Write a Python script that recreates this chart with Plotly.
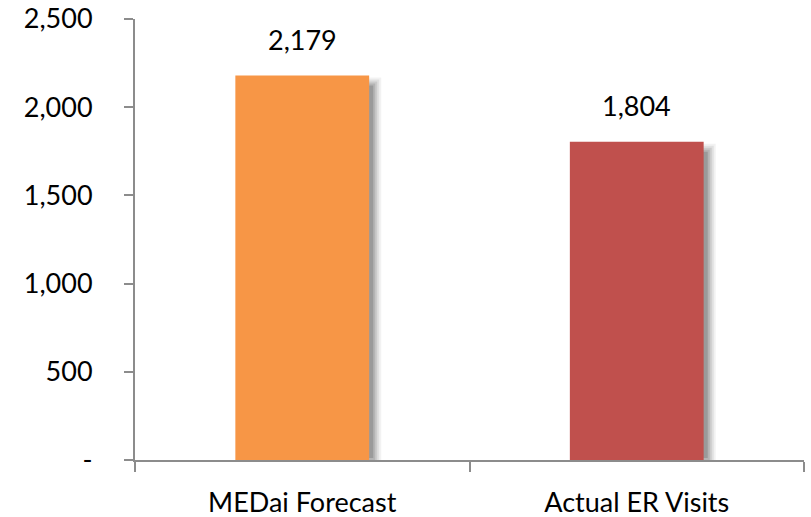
import plotly.graph_objects as go

categories = ["MEDai Forecast", "Actual ER Visits"]
values = [2179, 1804]
bar_colors = ["#F79646", "#C0504D"]
y_tickvals = [0, 500, 1000, 1500, 2000, 2500]
y_ticktext = ["-", "500", "1,000", "1,500", "2,000", "2,500"]
value_labels = ["2,179", "1,804"]

FONT = "Lato, Carlito, Calibri, sans-serif"
FS = 27

fig = go.Figure()

# soft drop shadow behind each bar (pixel offsets anchored to the data values)
shadow_layers = [(12, 0.05), (10, 0.07), (8, 0.09), (6, 0.11), (4, 0.14)]
for i, v in enumerate(values):
    for off, op in shadow_layers:
        fig.add_shape(
            type="rect", layer="below", xref="x", yref="y",
            xsizemode="pixel", xanchor=i, x0=-64, x1=67 + off,
            ysizemode="pixel", yanchor=v, y0=-(v * 0.1764) - off + 6, y1=-14 + off,
            line=dict(width=0), fillcolor=f"rgba(0,0,0,{op})",
        )

fig.add_trace(go.Bar(
    x=categories, y=values, marker=dict(color=bar_colors, line=dict(width=0)),
    width=0.40, hoverinfo="x+y",
))

for c, v, t in zip(categories, values, value_labels):
    fig.add_annotation(x=c, y=v, text=t, showarrow=False, yanchor="middle",
                       yshift=36, font=dict(size=FS, family=FONT, color="#000000"))

fig.update_layout(
    width=811, height=517,
    margin=dict(l=135, r=7, t=19, b=57, autoexpand=False),
    plot_bgcolor="white", paper_bgcolor="white",
    showlegend=False,
    font=dict(family=FONT, size=FS, color="#000000"),
    xaxis=dict(
        showline=True, linecolor="#8C8C8C", linewidth=2,
        ticks="outside", ticklen=10, tickcolor="#8C8C8C", tickwidth=2,
        tickson="boundaries", showgrid=False, zeroline=False,
        ticklabelstandoff=18, automargin=False,
        tickfont=dict(size=FS, family=FONT, color="#000000"),
    ),
    yaxis=dict(
        range=[0, 2500], tickvals=y_tickvals, ticktext=y_ticktext,
        showline=True, linecolor="#8C8C8C", linewidth=2,
        ticks="outside", ticklen=9, tickcolor="#8C8C8C", tickwidth=2,
        showgrid=False, zeroline=False, ticklabelstandoff=26, automargin=False,
        tickfont=dict(size=FS, family=FONT, color="#000000"),
    ),
)
fig.write_html("out.html")
